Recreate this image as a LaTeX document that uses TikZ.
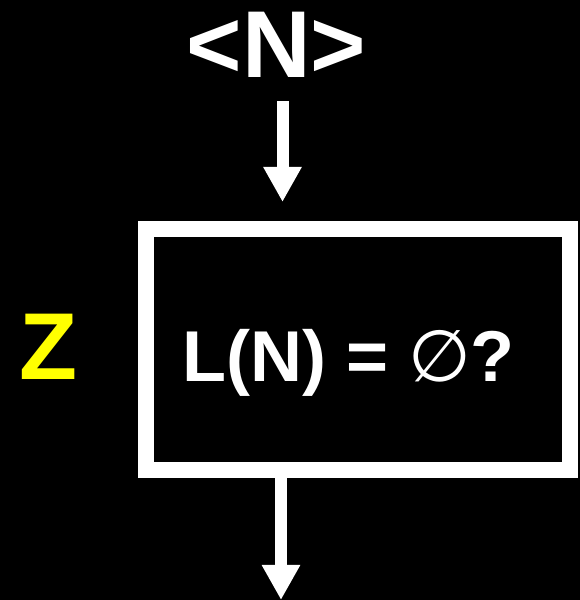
\documentclass[tikz,border=0pt]{standalone}
\usepackage{fontspec}
\setmainfont{Liberation Sans}
\newfontfamily\symfont{DejaVu Sans}
\usetikzlibrary{arrows.meta, positioning}
\definecolor{zyel}{RGB}{255,255,0}

\begin{document}
\begin{tikzpicture}[x=1pt, y=1pt,
    word/.style={text=white, font=\bfseries\fontsize{95}{95}\selectfont, inner sep=0pt},
    cond/.style={draw=white, line width=16pt, minimum width=424.5pt,
      minimum height=241pt, inner sep=0pt},
    test/.style={text=white, font=\bfseries\fontsize{72}{72}\selectfont, inner sep=0pt},
    tag/.style={text=zyel, font=\bfseries\fontsize{95}{95}\selectfont, inner sep=0pt},
    arr/.style={-{Triangle[width=36pt, length=35pt]}, line width=12pt, white}]
  \fill[black] (0,0) rectangle (580,600);
  \useasboundingbox (0,0) rectangle (580,600);
  \node[word, anchor=base] (in) at (276.5,522) {<N>};
  \node[cond] (box) at (357.75,250.5) {};
  \node[test, anchor=base] (q) at (348.5,218) {L(N) = {\symfont\mdseries ∅}?};
  \node[tag, anchor=base] (z) at (48.5,220) {Z};
  \coordinate (top) at (282.5,0);
  \coordinate (out) at (281,0);
  \draw[arr, shorten <=23pt, shorten >=19pt] (in.south -| top) -- (box.north -| top);
  \draw[arr] (box.south -| out) -- (out);
\end{tikzpicture}
\end{document}
